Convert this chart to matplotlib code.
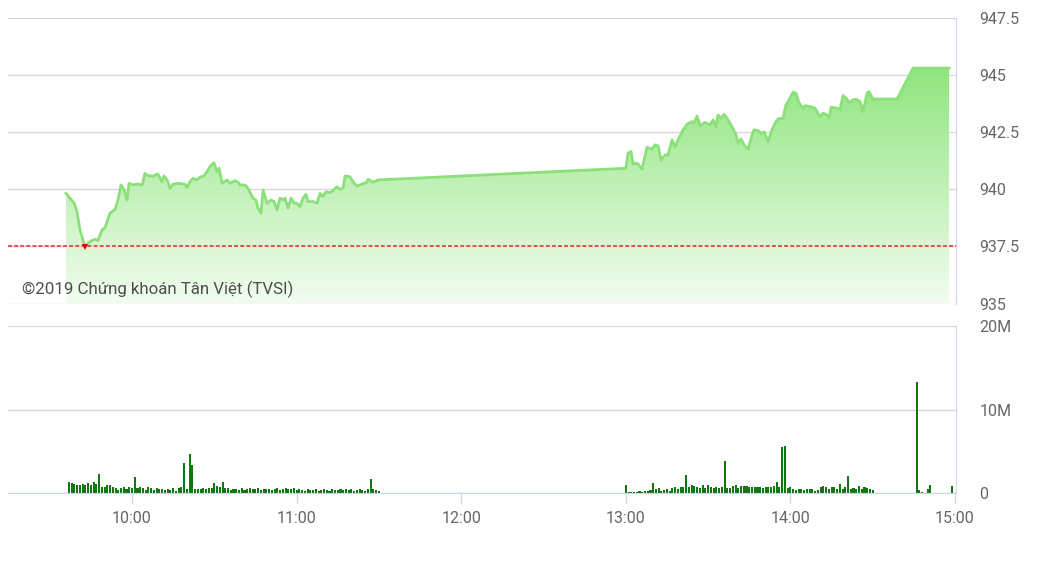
import matplotlib
matplotlib.use('Agg')
import matplotlib.pyplot as plt
import numpy as np
from matplotlib.colors import LinearSegmentedColormap
from matplotlib.patches import Polygon

plt.rcParams['font.family'] = ['Roboto', 'DejaVu Sans']

# ---------------- data ----------------
# time in decimal hours, VN-Index value
price_time = [
    9.599, 9.623, 9.648, 9.666, 9.684, 9.714, 9.745, 9.775, 9.793, 9.818,
    9.836, 9.866, 9.897, 9.915, 9.933, 9.951, 9.970, 9.982, 10.006, 10.036,
    10.061, 10.079, 10.097, 10.128, 10.158, 10.182, 10.194, 10.213, 10.231, 10.249,
    10.279, 10.322, 10.334, 10.352, 10.371, 10.395, 10.413, 10.437, 10.456, 10.474,
    10.498, 10.516, 10.529, 10.547, 10.577, 10.595, 10.626, 10.644, 10.656, 10.687,
    10.705, 10.735, 10.753, 10.765, 10.784, 10.796, 10.820, 10.844, 10.863, 10.881,
    10.899, 10.923, 10.930, 10.948, 10.966, 10.984, 11.002, 11.021, 11.039, 11.057,
    11.069, 11.100, 11.124, 11.142, 11.160, 11.179, 11.203, 11.221, 11.245, 11.264,
    11.282, 11.294, 11.324, 11.349, 11.367, 11.397, 11.428, 11.434, 11.464, 11.495,
    11.500,
    13.001, 13.013, 13.032, 13.044, 13.068, 13.080, 13.098, 13.129, 13.159, 13.177,
    13.196, 13.214, 13.238, 13.256, 13.281, 13.299, 13.317, 13.348, 13.372, 13.402,
    13.414, 13.433, 13.451, 13.481, 13.512, 13.530, 13.548, 13.560, 13.579, 13.597,
    13.615, 13.645, 13.670, 13.682, 13.700, 13.718, 13.743, 13.767, 13.779, 13.803,
    13.827, 13.840, 13.864, 13.888, 13.906, 13.925, 13.955, 13.973, 13.992, 14.016,
    14.034, 14.052, 14.077, 14.089, 14.119, 14.149, 14.180, 14.198, 14.222, 14.235,
    14.247, 14.283, 14.301, 14.320, 14.344, 14.356, 14.380, 14.399, 14.423, 14.441,
    14.466, 14.478, 14.502, 14.648, 14.745, 14.964,
]
price_value = [
    939.82, 939.61, 939.41, 939.01, 938.22, 937.49, 937.71, 937.81, 937.75, 938.22,
    938.32, 938.95, 939.12, 939.53, 940.19, 939.97, 939.53, 940.26, 940.19, 940.23,
    940.18, 940.70, 940.60, 940.58, 940.67, 940.33, 940.58, 940.41, 940.04, 940.22,
    940.26, 940.22, 940.07, 940.33, 940.48, 940.41, 940.53, 940.58, 940.77, 940.99,
    941.16, 940.77, 940.92, 940.26, 940.41, 940.26, 940.38, 940.31, 940.19, 940.19,
    940.04, 939.61, 939.53, 939.17, 938.95, 939.97, 939.39, 939.53, 939.46, 939.09,
    939.61, 939.53, 939.61, 939.17, 939.61, 939.39, 939.39, 939.24, 939.61, 939.78,
    939.46, 939.46, 939.39, 939.82, 939.68, 939.89, 939.85, 939.94, 940.11, 940.00,
    940.04, 940.58, 940.55, 940.26, 940.14, 940.23, 940.31, 940.44, 940.31, 940.41,
    940.41,
    940.92, 941.58, 941.65, 941.11, 941.14, 941.06, 940.88, 941.84, 941.75, 941.94,
    941.90, 941.28, 941.50, 941.50, 942.16, 941.84, 942.16, 942.60, 942.85, 942.96,
    942.89, 943.21, 942.77, 942.93, 942.82, 943.03, 942.74, 943.25, 943.11, 943.28,
    943.11, 942.74, 942.38, 942.01, 942.20, 941.94, 941.75, 942.38, 942.60, 942.57,
    942.42, 942.52, 942.08, 942.60, 942.89, 943.08, 943.11, 943.69, 943.91, 944.25,
    944.20, 943.79, 943.55, 943.66, 943.62, 943.55, 943.18, 943.33, 943.25, 943.11,
    943.59, 943.55, 943.50, 944.10, 943.95, 943.77, 943.91, 943.94, 943.84, 943.40,
    944.20, 944.27, 943.95, 943.95, 945.30, 945.30,
]
ref_price = 937.52
low_time = 9.714
low_price = 937.49

# volume (millions of shares), one bar per minute
vol_morning_start = "09:37"
vol_morning = [
    1.4, 1.2, 1.1, 1.0, 1.0, 1.1, 1.0, 1.2, 1.0, 1.3, 1.1, 2.3, 0.7, 0.8, 1.0, 1.0,
    0.8, 0.6, 0.4, 0.6, 0.7, 0.5, 0.8,
    0.6, 2.0, 0.6, 0.8, 0.6, 0.4, 0.8, 0.6, 0.4, 0.6, 0.5, 0.5, 0.4, 0.5, 0.4, 0.6,
    0.3, 0.6, 0.8, 3.6, 0.5, 4.7, 3.4, 0.5, 0.5, 0.5, 0.6, 0.5, 0.6, 0.6,
    1.2, 0.9, 0.7, 1.4, 0.6, 0.6, 0.4, 0.55, 0.5, 0.4, 0.6, 0.4, 0.5, 0.6, 0.55,
    0.5, 0.6, 0.4, 0.5, 0.55, 0.5, 0.4, 0.5, 0.6, 0.4, 0.5, 0.6, 0.5, 0.5, 0.6,
    0.4, 0.5, 0.4, 0.3, 0.5, 0.4, 0.4, 0.5, 0.3, 0.4, 0.5, 0.4, 0.3, 0.5, 0.4, 0.4,
    0.5, 0.4, 0.5, 0.4, 0.5, 0.3, 0.4, 0.5, 0.4, 0.3, 0.5, 1.7, 0.5, 0.4, 0.3,
]
vol_afternoon_start = "13:00"
vol_afternoon = [
    1.0, 0.1, 0.15, 0.2, 0.2, 0.3, 0.2, 0.3, 0.3, 0.4,
    1.2, 0.5, 0.6, 0.3, 0.4, 0.5, 0.3, 0.6, 0.7, 0.5, 0.8, 0.7,
    2.2, 0.7, 1.0, 0.9, 0.8, 0.6, 1.0, 0.6, 1.0, 0.8, 0.6, 0.8, 0.6, 0.8,
    3.9, 0.6, 0.6, 0.9, 1.0, 0.6, 0.9, 0.9, 0.9, 0.8, 0.7, 0.7, 0.7, 0.7, 0.6,
    0.8, 0.8, 0.7, 0.9, 1.3, 0.7, 5.6, 5.7, 0.6,
    0.8, 0.5, 0.4, 0.5, 0.5, 0.4, 0.5, 0.55, 0.5, 0.3, 0.4, 0.7, 0.9, 0.8, 0.5,
    0.7, 0.8, 0.55, 1.1, 0.55, 0.7, 2.1, 0.55, 0.6, 0.5, 0.9, 0.55, 0.8, 0.6,
    0.5, 0.4,
]
vol_close_times = ["14:46", "14:47", "14:48", "14:50", "14:51", "14:59"]
vol_close = [13.3, 0.4, 0.2, 0.5, 1.0, 0.9]

price_ticks = [935, 937.5, 940, 942.5, 945, 947.5]
price_tick_labels = ["935", "937.5", "940", "942.5", "945", "947.5"]
vol_ticks = [0, 10, 20]
vol_tick_labels = ["0", "10M", "20M"]
hour_ticks = [10, 11, 12, 13, 14, 15]
hour_labels = ["10:00", "11:00", "12:00", "13:00", "14:00", "15:00"]
copyright_text = "©2019 Chứng khoán Tân Việt (TVSI)"


def hhmm(s):
    h, m = s.split(":")
    return int(h) + int(m) / 60.0


vol_t = ([hhmm(vol_morning_start) + i / 60.0 for i in range(len(vol_morning))]
         + [hhmm(vol_afternoon_start) + i / 60.0 for i in range(len(vol_afternoon))]
         + [hhmm(s) for s in vol_close_times])
vol_v = vol_morning + vol_afternoon + vol_close

# ---------------- figure ----------------
W, H = 1045, 587
fig = plt.figure(figsize=(W / 100, H / 100), dpi=100)
left, right = 8.3 / W, 956 / W
ax = fig.add_axes([left, 1 - 303.5 / H, right - left, (303.5 - 17.9) / H])
axv = fig.add_axes([left, 1 - 493.3 / H, right - left, (493.3 - 326.5) / H])

xlim = (9.2485, 15.006)
grid_c = '#d9d9d9'
axis_c = '#ccd6eb'
label_c = '#666666'

# ---- price panel ----
t = np.array(price_time)
p = np.array(price_value)
verts = [(t[0], 935)] + list(zip(t, p)) + [(t[-1], 935)]
poly = Polygon(verts, closed=True, facecolor='none', edgecolor='none')
ax.add_patch(poly)
cmap = LinearSegmentedColormap.from_list('g', ['#f2fdf0', '#8fe57d'])
grad = np.linspace(0, 1, 256).reshape(-1, 1)
im = ax.imshow(grad, extent=[t[0], t[-1], 935, p.max()], origin='lower',
               aspect='auto', cmap=cmap, zorder=1, interpolation='bilinear')
im.set_clip_path(poly)
ax.plot(t, p, color='#8ce07a', lw=2, zorder=3, solid_joinstyle='round')
ax.axhline(ref_price, color='#e3262a', lw=1.1, ls=(0, (2.6, 1.4)), zorder=4)
ax.plot([low_time], [low_price], marker='v', color='#e00000', ms=5, zorder=5,
        markeredgewidth=0)
ax.text(0.0148, 0.051, copyright_text, transform=ax.transAxes, fontsize=12.2,
        color='#4d4d4d', va='center', ha='left', zorder=6)

ax.set_xlim(*xlim)
ax.set_ylim(935, 947.5)
ax.set_yticks(price_ticks)
ax.set_yticklabels(price_tick_labels)
ax.yaxis.tick_right()
ax.tick_params(axis='y', length=0, pad=17, labelsize=11.5, labelcolor=label_c)
ax.set_xticks([])
ax.yaxis.grid(True, color=grid_c, lw=1)
ax.set_axisbelow(True)
for s in ['left', 'top', 'bottom']:
    ax.spines[s].set_visible(False)
ax.spines['right'].set_color(axis_c)
ax.set_facecolor('none')

# ---- volume panel ----
axv.bar(vol_t, vol_v, width=0.75 / 60, color='#117811', align='center',
        zorder=3, linewidth=0)
axv.set_xlim(*xlim)
axv.set_ylim(0, 20)
axv.set_yticks(vol_ticks)
axv.set_yticklabels(vol_tick_labels)
axv.yaxis.tick_right()
axv.tick_params(axis='y', length=0, pad=17, labelsize=11.5, labelcolor=label_c)
axv.yaxis.grid(True, color=grid_c, lw=1)
axv.set_axisbelow(True)
axv.set_xticks(hour_ticks)
axv.set_xticklabels(hour_labels)
axv.tick_params(axis='x', length=7, width=1, color=axis_c, pad=6,
                labelsize=11.5, labelcolor=label_c)
for s in ['left', 'top']:
    axv.spines[s].set_visible(False)
axv.spines['right'].set_color(axis_c)
axv.spines['bottom'].set_color(axis_c)
axv.spines['bottom'].set_zorder(4)
axv.set_facecolor('none')

fig.savefig('out.png', dpi=100)
